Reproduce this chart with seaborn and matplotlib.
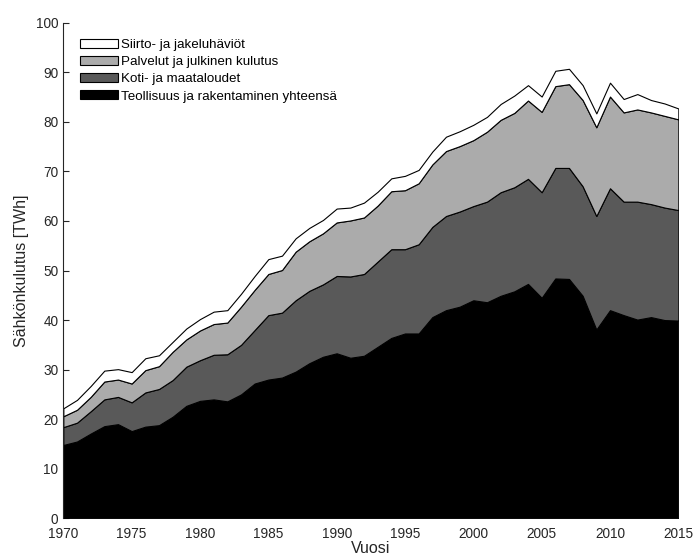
import numpy as np
import pandas as pd
import matplotlib
matplotlib.use("Agg")
import matplotlib.pyplot as plt
import seaborn as sns

# Electricity consumption in Finland by sector, TWh
years = list(range(1970, 2016))

teollisuus = [14.8, 15.5, 17.1, 18.6, 19.0, 17.6, 18.5, 18.8, 20.5, 22.7,
              23.7, 24.0, 23.6, 25.0, 27.2, 28.0, 28.4, 29.6, 31.3, 32.6,
              33.3, 32.4, 32.8, 34.6, 36.4, 37.3, 37.3, 40.6, 42.0, 42.7,
              44.0, 43.6, 44.9, 45.8, 47.3, 44.5, 48.4, 48.3, 44.9, 38.1,
              42.0, 41.0, 40.1, 40.6, 40.0, 39.9]

koti_maatalous = [3.6, 3.8, 4.5, 5.4, 5.5, 5.8, 6.9, 7.3, 7.4, 7.9,
                  8.2, 9.0, 9.5, 10.0, 10.8, 13.0, 13.1, 14.4, 14.6, 14.6,
                  15.6, 16.4, 16.5, 17.2, 17.9, 17.0, 18.0, 18.2, 19.0, 19.2,
                  19.0, 20.3, 20.9, 21.0, 21.2, 21.3, 22.3, 22.4, 22.1, 22.9,
                  24.6, 22.9, 23.8, 22.8, 22.7, 22.3]

palvelut = [2.2, 2.6, 2.9, 3.6, 3.5, 3.8, 4.5, 4.6, 5.7, 5.5,
            6.0, 6.2, 6.4, 7.7, 8.1, 8.3, 8.6, 9.8, 10.0, 10.3,
            10.8, 11.3, 11.4, 11.3, 11.7, 11.9, 12.3, 12.6, 13.1, 13.2,
            13.3, 14.1, 14.6, 15.0, 15.8, 16.2, 16.5, 16.9, 17.4, 17.9,
            18.5, 18.0, 18.6, 18.5, 18.5, 18.3]

haviot = [1.6, 2.0, 2.2, 2.2, 2.1, 2.3, 2.4, 2.2, 2.0, 2.2,
          2.3, 2.5, 2.5, 2.6, 2.8, 3.0, 2.9, 2.7, 2.7, 2.7,
          2.8, 2.6, 3.0, 2.8, 2.6, 2.9, 2.7, 2.6, 2.9, 3.0,
          3.1, 3.0, 3.2, 3.5, 3.1, 3.1, 3.1, 3.1, 3.0, 2.8,
          2.8, 2.7, 3.1, 2.5, 2.5, 2.2]

labels = ["Teollisuus ja rakentaminen yhteensä",
          "Koti- ja maataloudet",
          "Palvelut ja julkinen kulutus",
          "Siirto- ja jakeluhäviöt"]
colors = ["#000000", "#595959", "#ababab", "#ffffff"]

df = pd.DataFrame({"Vuosi": years,
                   labels[0]: teollisuus,
                   labels[1]: koti_maatalous,
                   labels[2]: palvelut,
                   labels[3]: haviot})

sns.set_theme(style="ticks")
plt.rcParams["font.family"] = ["Liberation Sans", "DejaVu Sans"]
axis_color = "#262626"

fig = plt.figure(figsize=(6.96, 5.58), dpi=100)
ax = fig.add_axes([0.091, 0.0711, 0.8836, 0.8882])

ax.stackplot(df["Vuosi"], [df[l] for l in labels], labels=labels,
             colors=colors, edgecolor="black", linewidth=0.8)

ax.set_xlim(1970, 2015)
ax.set_ylim(0, 100)
ax.set_xticks(range(1970, 2016, 5))
ax.set_yticks(range(0, 101, 10))
ax.tick_params(axis="y", direction="in", length=4.5, width=0.8,
               labelsize=9.8, pad=3.6, colors=axis_color, labelcolor=axis_color)
ax.tick_params(axis="x", length=0, labelsize=9.8, pad=6, labelcolor=axis_color)

ax.set_xlabel("Vuosi", fontsize=11.5, color=axis_color, labelpad=0)
ax.set_ylabel("Sähkönkulutus [TWh]", fontsize=11.5, color=axis_color, labelpad=4.8)

sns.despine(ax=ax, top=True, right=True, bottom=True)
ax.spines["left"].set_color(axis_color)
ax.spines["left"].set_linewidth(0.8)

handles, leg_labels = ax.get_legend_handles_labels()
leg = ax.legend(handles[::-1], leg_labels[::-1], loc="upper left",
                bbox_to_anchor=(0.018, 0.978), borderaxespad=0,
                frameon=False, fontsize=9.6, handlelength=2.85,
                handleheight=0.64, handletextpad=0.28, labelspacing=0.38)
for t in leg.get_texts():
    t.set_color("black")

fig.savefig("out.png", dpi=100)
